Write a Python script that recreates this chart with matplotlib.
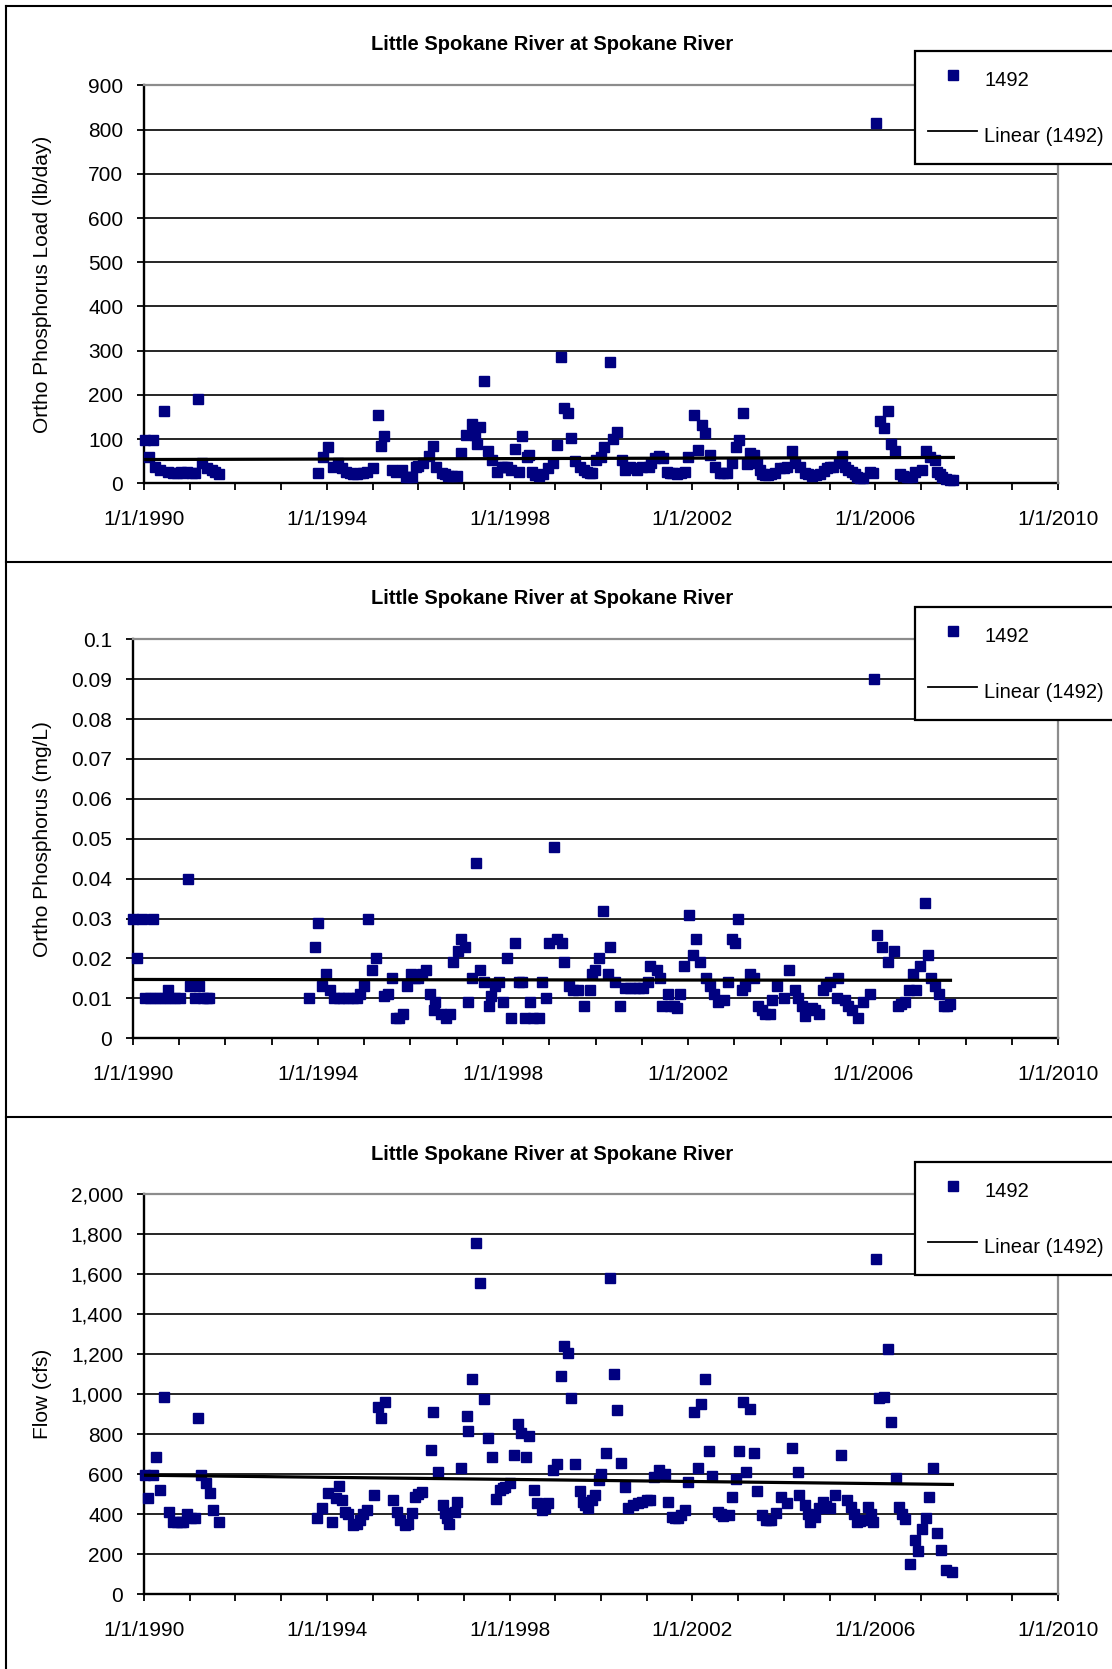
import matplotlib
matplotlib.use('Agg')
import matplotlib.pyplot as plt
import numpy as np
from matplotlib.lines import Line2D
from matplotlib.ticker import FuncFormatter, MultipleLocator

plt.rcParams['font.family'] = ['Liberation Sans', 'DejaVu Sans']

W, H = 1112, 1669
NAVY = '#000080'
TITLE = 'Little Spokane River at Spokane River'
SERIES = '1492'

# sample dates as decimal years, one list per parameter
load_year = [
    1990.02, 1990.12, 1990.20, 1990.24, 1990.35, 1990.44, 1990.53, 1990.64, 1990.72, 1990.80,
    1990.86, 1990.93, 1991.04, 1991.11, 1991.19, 1991.26, 1991.37, 1991.48, 1991.55, 1991.64,
    1993.81, 1993.92, 1994.02, 1994.14, 1994.25, 1994.33, 1994.43, 1994.50, 1994.58, 1994.66,
    1994.73, 1994.80, 1994.87, 1995.02, 1995.11, 1995.18, 1995.26, 1995.42, 1995.52, 1995.64,
    1995.73, 1995.80, 1995.86, 1995.95, 1996.00, 1996.11, 1996.24, 1996.33, 1996.40, 1996.51,
    1996.58, 1996.66, 1996.75, 1996.84, 1996.93,
    1997.05, 1997.17, 1997.24, 1997.28, 1997.35, 1997.44, 1997.53, 1997.61, 1997.72, 1997.83,
    1997.88, 1997.94,
    1998.03, 1998.12, 1998.21, 1998.28, 1998.37, 1998.43, 1998.50, 1998.56, 1998.65, 1998.74,
    1998.85, 1998.95,
    1999.03, 1999.12, 1999.18, 1999.27, 1999.34, 1999.43, 1999.54, 1999.62, 1999.69, 1999.75,
    1999.80, 1999.90,
    2000.01, 2000.07, 2000.20, 2000.26, 2000.36, 2000.45, 2000.53, 2000.63, 2000.71, 2000.78,
    2000.89,
    2001.04, 2001.10, 2001.18, 2001.28, 2001.36, 2001.44, 2001.50, 2001.55, 2001.66, 2001.75,
    2001.84, 2001.91,
    2002.04, 2002.13, 2002.20, 2002.28, 2002.39, 2002.50, 2002.60, 2002.68, 2002.75, 2002.86,
    2002.95,
    2003.03, 2003.10, 2003.19, 2003.26, 2003.35, 2003.41, 2003.47, 2003.52, 2003.59, 2003.66,
    2003.73, 2003.81, 2003.92, 2004.00,
    2004.06, 2004.19, 2004.25, 2004.35, 2004.46, 2004.53, 2004.61, 2004.70, 2004.79, 2004.87,
    2004.94, 2005.00,
    2005.08, 2005.20, 2005.27, 2005.34, 2005.41, 2005.50, 2005.55, 2005.60, 2005.67, 2005.74,
    2005.89, 2005.95,
    2006.02, 2006.11, 2006.19, 2006.27, 2006.34, 2006.43, 2006.54, 2006.61, 2006.69, 2006.74,
    2006.80, 2006.87,
    2007.02, 2007.11, 2007.20, 2007.31, 2007.36, 2007.41, 2007.46, 2007.56, 2007.63, 2007.71,
]
load_lbday = [
    98, 59, 98, 38, 30, 164, 26, 24, 24, 26,
    24, 26, 24, 24, 191, 47, 34, 30, 26, 21,
    24, 60, 81, 38, 45, 34, 26, 24, 21, 21,
    23, 24, 26, 34, 154, 85, 107, 29, 25, 30,
    15, 15, 15, 38, 40, 45, 62, 84, 38, 23,
    20, 17, 17, 17, 68,
    109, 134, 109, 90, 128, 232, 73, 53, 26, 38,
    36, 38,
    30, 78, 26, 107, 60, 64, 25, 19, 17, 21,
    34, 45,
    87, 285, 170, 160, 102, 50, 38, 30, 26, 24,
    23, 53,
    60, 81, 275, 100, 117, 53, 30, 38, 34, 30,
    38,
    38, 45, 58, 62, 58, 26, 24, 23, 21, 24,
    26, 60,
    154, 75, 132, 113, 64, 38, 23, 24, 24, 45,
    83,
    98, 158, 44, 68, 64, 45, 30, 20, 19, 19,
    20, 23, 34, 35,
    38, 73, 45, 38, 23, 20, 17, 19, 21, 28,
    34, 36,
    38, 45, 62, 38, 30, 25, 20, 15, 13, 11,
    26, 24,
    815, 142, 124, 164, 90, 74, 21, 17, 15, 15,
    15, 26,
    30, 73, 60, 53, 26, 20, 15, 9, 8, 8,
]

conc_year = [
    1990.00, 1990.10, 1990.20, 1990.27, 1990.37, 1990.43, 1990.48, 1990.59, 1990.70, 1990.77,
    1990.81, 1990.91, 1991.02, 1991.19, 1991.24, 1991.35, 1991.44, 1991.52, 1991.60, 1991.64,
    1993.80, 1993.93, 1994.01, 1994.08, 1994.18, 1994.27, 1994.34, 1994.45, 1994.55, 1994.65,
    1994.75, 1994.84, 1994.91, 1995.00, 1995.09, 1995.18, 1995.26, 1995.44, 1995.51, 1995.60,
    1995.68, 1995.75, 1995.84, 1995.92, 1996.02, 1996.10, 1996.16, 1996.25, 1996.34, 1996.43,
    1996.52, 1996.53, 1996.66, 1996.77, 1996.86, 1996.93, 1997.02, 1997.09, 1997.18, 1997.25,
    1997.33, 1997.42, 1997.51, 1997.58, 1997.69, 1997.74, 1997.83, 1997.92, 1998.01, 1998.08,
    1998.17, 1998.26, 1998.35, 1998.42, 1998.48, 1998.59, 1998.66, 1998.77, 1998.84, 1998.93,
    1999.00, 1999.11, 1999.16, 1999.27, 1999.33, 1999.42, 1999.52, 1999.63, 1999.76, 1999.88,
    1999.92, 1999.99, 2000.08, 2000.17, 2000.28, 2000.32, 2000.42, 2000.52, 2000.64, 2000.75,
    2000.85, 2000.95, 2001.03, 2001.14, 2001.18, 2001.32, 2001.39, 2001.43, 2001.57, 2001.61,
    2001.69, 2001.77, 2001.83, 2001.91, 2002.03, 2002.11, 2002.17, 2002.26, 2002.39, 2002.47,
    2002.55, 2002.65, 2002.78, 2002.87, 2002.96, 2003.01, 2003.07, 2003.16, 2003.24, 2003.34,
    2003.43, 2003.52, 2003.59, 2003.66, 2003.77, 2003.82, 2003.92, 2004.07, 2004.18, 2004.30,
    2004.38, 2004.46, 2004.53, 2004.67, 2004.74, 2004.82, 2004.91, 2004.99, 2005.07, 2005.21,
    2005.25, 2005.39, 2005.46, 2005.54, 2005.68, 2005.79, 2005.93, 2006.02, 2006.08, 2006.19,
    2006.31, 2006.44, 2006.53, 2006.61, 2006.69, 2006.77, 2006.86, 2006.92, 2007.01, 2007.11,
    2007.18, 2007.24, 2007.33, 2007.42, 2007.53, 2007.60, 2007.67,
]
conc_mgl = [
    0.030, 0.020, 0.030, 0.010, 0.010, 0.030, 0.010, 0.010, 0.010, 0.012,
    0.010, 0.010, 0.010, 0.040, 0.013, 0.010, 0.013, 0.010, 0.010, 0.010,
    0.010, 0.023, 0.029, 0.013, 0.016, 0.012, 0.010, 0.010, 0.010, 0.010,
    0.010, 0.010, 0.011, 0.013, 0.030, 0.017, 0.020, 0.0105, 0.011, 0.015,
    0.005, 0.005, 0.006, 0.013, 0.016, 0.015, 0.015, 0.016, 0.017, 0.011,
    0.007, 0.009, 0.006, 0.005, 0.006, 0.019, 0.022, 0.025, 0.023, 0.009,
    0.015, 0.044, 0.017, 0.014, 0.008, 0.0105, 0.013, 0.014, 0.009, 0.020,
    0.005, 0.024, 0.014, 0.014, 0.005, 0.009, 0.005, 0.005, 0.014, 0.010,
    0.024, 0.048, 0.025, 0.024, 0.019, 0.013, 0.012, 0.012, 0.008, 0.012,
    0.016, 0.017, 0.020, 0.032, 0.016, 0.023, 0.014, 0.008, 0.0125, 0.0125,
    0.0125, 0.0125, 0.0125, 0.014, 0.018, 0.017, 0.015, 0.008, 0.011, 0.008,
    0.008, 0.0075, 0.011, 0.018, 0.031, 0.021, 0.025, 0.019, 0.015, 0.013,
    0.011, 0.009, 0.0096, 0.014, 0.025, 0.024, 0.030, 0.012, 0.013, 0.016,
    0.015, 0.008, 0.007, 0.006, 0.006, 0.0096, 0.013, 0.010, 0.017, 0.012,
    0.010, 0.008, 0.0056, 0.0075, 0.007, 0.006, 0.012, 0.013, 0.014, 0.010,
    0.015, 0.0096, 0.008, 0.007, 0.005, 0.009, 0.011, 0.090, 0.026, 0.023,
    0.019, 0.022, 0.008, 0.0085, 0.009, 0.012, 0.016, 0.012, 0.018, 0.034,
    0.021, 0.015, 0.013, 0.011, 0.008, 0.008, 0.0085,
]

flow_year = [
    1990.02, 1990.09, 1990.20, 1990.26, 1990.36, 1990.44, 1990.55, 1990.64, 1990.72, 1990.80,
    1990.86, 1990.93, 1991.03, 1991.11, 1991.19, 1991.25, 1991.36, 1991.44, 1991.52, 1991.64,
    1993.78, 1993.89, 1994.03, 1994.11, 1994.20, 1994.27, 1994.33, 1994.40, 1994.47, 1994.58,
    1994.66, 1994.73, 1994.80, 1994.87, 1995.04, 1995.13, 1995.19, 1995.27, 1995.44, 1995.53,
    1995.60, 1995.71, 1995.78, 1995.86, 1995.93, 1996.00, 1996.08, 1996.27, 1996.33, 1996.43,
    1996.55, 1996.59, 1996.64, 1996.68, 1996.80, 1996.84, 1996.93,
    1997.06, 1997.10, 1997.18, 1997.26, 1997.35, 1997.44, 1997.52, 1997.61, 1997.70, 1997.79,
    1997.85, 1997.90,
    1998.00, 1998.09, 1998.18, 1998.26, 1998.35, 1998.43, 1998.53, 1998.59, 1998.70, 1998.78,
    1998.85, 1998.96,
    1999.04, 1999.12, 1999.18, 1999.27, 1999.34, 1999.43, 1999.54, 1999.61, 1999.66, 1999.72,
    1999.80, 1999.87, 1999.96,
    2000.01, 2000.10, 2000.20, 2000.28, 2000.36, 2000.44, 2000.53, 2000.60, 2000.71, 2000.80,
    2000.90,
    2001.00, 2001.08, 2001.15, 2001.26, 2001.40, 2001.46, 2001.55, 2001.62, 2001.69, 2001.76,
    2001.84, 2001.91,
    2002.04, 2002.13, 2002.19, 2002.28, 2002.36, 2002.42, 2002.57, 2002.62, 2002.68, 2002.79,
    2002.87, 2002.95,
    2003.02, 2003.10, 2003.17, 2003.26, 2003.35, 2003.41, 2003.53, 2003.62, 2003.68, 2003.73,
    2003.84, 2003.94,
    2004.06, 2004.19, 2004.30, 2004.34, 2004.46, 2004.52, 2004.57, 2004.68, 2004.76, 2004.85,
    2004.93,
    2005.01, 2005.12, 2005.26, 2005.38, 2005.48, 2005.54, 2005.60, 2005.67, 2005.74, 2005.85,
    2005.90, 2005.95,
    2006.02, 2006.09, 2006.19, 2006.27, 2006.34, 2006.45, 2006.53, 2006.59, 2006.65, 2006.76,
    2006.86, 2006.93,
    2007.03, 2007.11, 2007.18, 2007.27, 2007.35, 2007.43, 2007.54, 2007.69,
]
flow_cfs = [
    597, 480, 597, 685, 522, 985, 413, 363, 363, 363,
    363, 400, 380, 380, 880, 597, 555, 505, 422, 360,
    380, 430, 505, 363, 480, 542, 472, 410, 400, 347,
    352, 372, 400, 422, 497, 938, 880, 963, 472, 413,
    372, 347, 350, 405, 488, 500, 513, 722, 910, 613,
    447, 405, 380, 352, 413, 463, 630,
    892, 818, 1077, 1755, 1555, 977, 780, 688, 475, 522,
    530, 538,
    555, 697, 850, 805, 688, 793, 522, 455, 422, 430,
    455, 622,
    650, 1092, 1243, 1205, 980, 650, 517, 463, 445, 433,
    470, 497, 572,
    600, 705, 1580, 1100, 922, 655, 538, 430, 447, 455,
    463,
    472, 472, 588, 622, 600, 463, 388, 380, 380, 395,
    422, 563,
    913, 630, 952, 1077, 717, 593, 413, 400, 392, 397,
    485, 577,
    717, 960, 610, 927, 705, 517, 397, 372, 372, 372,
    405, 485,
    455, 730, 610, 497, 447, 400, 363, 388, 430, 463,
    440,
    430, 497, 697, 472, 438, 400, 363, 365, 372, 438,
    400, 363,
    1677, 980, 985, 1225, 860, 583, 438, 400, 375, 152,
    272, 217,
    325, 380, 488, 630, 305, 222, 122, 110,
]

year_ticks = [1990, 1994, 1998, 2002, 2006, 2010]


def fig_rect(left, top, right, bottom):
    return [left / W, 1 - bottom / H, (right - left) / W, (bottom - top) / H]


def draw_panel(fig, box, years, values, yticks, fmt, ylabel, title_y, legend_top):
    left, top, right, bottom = box
    ax = fig.add_axes(fig_rect(left, top, right, bottom))
    yrs = np.asarray(years)
    vals = np.asarray(values)

    ax.plot(yrs, vals, ls='none', marker='s', ms=7.8, color=NAVY, mec=NAVY,
            zorder=3, clip_on=False)
    slope, icpt = np.polyfit(yrs, vals, 1)
    xs = np.array([yrs.min(), yrs.max()])
    ax.plot(xs, icpt + slope * xs, color='black', lw=2.3, zorder=4)

    ax.set_xlim(1990, 2010)
    ax.set_ylim(yticks[0], yticks[-1])
    ax.set_yticks(yticks)
    ax.yaxis.set_major_formatter(FuncFormatter(fmt))
    ax.set_xticks(year_ticks)
    ax.set_xticklabels([f'1/1/{y}' for y in year_ticks])
    ax.xaxis.set_minor_locator(MultipleLocator(1))

    ax.set_axisbelow(True)
    ax.yaxis.grid(True, color='black', lw=1.2)
    for side in ('left', 'bottom'):
        ax.spines[side].set_color('black')
        ax.spines[side].set_linewidth(1.7)
    for side in ('top', 'right'):
        ax.spines[side].set_color('#8c8c8c')
        ax.spines[side].set_linewidth(1.6)
        ax.spines[side].set_zorder(2.6)

    ax.tick_params(axis='x', which='both', direction='out', length=5, width=1.3,
                   pad=14, labelsize=15)
    ax.tick_params(axis='y', direction='out', length=5, width=1.3, pad=10,
                   labelsize=15)

    ax.set_ylabel(ylabel, fontsize=15)
    ax.yaxis.set_label_coords((52 - left) / (right - left), 0.5)

    fig.text(552 / W, 1 - title_y / H, TITLE, ha='center', va='center',
             fontsize=14.5, fontweight='bold')

    handles = [Line2D([], [], ls='none', marker='s', ms=7.8, color=NAVY),
               Line2D([], [], color='black', lw=1.3)]
    leg = ax.legend(handles, [SERIES, f'Linear ({SERIES})'], loc='upper left',
                    bbox_to_anchor=(915 / W, 1 - legend_top / H),
                    bbox_transform=fig.transFigure, fontsize=14.5,
                    frameon=True, fancybox=False, framealpha=1,
                    edgecolor='black', borderpad=0.64, labelspacing=1.17,
                    handleheight=2.06, handlelength=2.45, handletextpad=0.35,
                    borderaxespad=0)
    leg.get_frame().set_linewidth(1.6)
    leg.set_zorder(10)
    return ax


fig = plt.figure(figsize=(W / 100, H / 100), dpi=100)

# chart-area borders
for y in (6, 562, 1117):
    fig.add_artist(Line2D([6 / W, 1], [1 - y / H, 1 - y / H], color='black', lw=1.5))
fig.add_artist(Line2D([6 / W, 6 / W], [0, 1 - 6 / H], color='black', lw=1.5))

draw_panel(fig, (144, 85.5, 1058, 483.3), load_year, load_lbday,
           np.arange(0, 901, 100), lambda v, p: f'{v:.0f}',
           'Ortho Phosphorus Load (lb/day)', 44, 51)

draw_panel(fig, (132.7, 639.3, 1058.3, 1038.3), conc_year, conc_mgl,
           np.linspace(0, 0.1, 11), lambda v, p: f'{v:g}',
           'Ortho Phosphorus (mg/L)', 599, 607)

draw_panel(fig, (144, 1194.3, 1058, 1594.3), flow_year, flow_cfs,
           np.arange(0, 2001, 200), lambda v, p: f'{v:,.0f}',
           'Flow (cfs)', 1154, 1162)

fig.savefig('out.png', dpi=100)
